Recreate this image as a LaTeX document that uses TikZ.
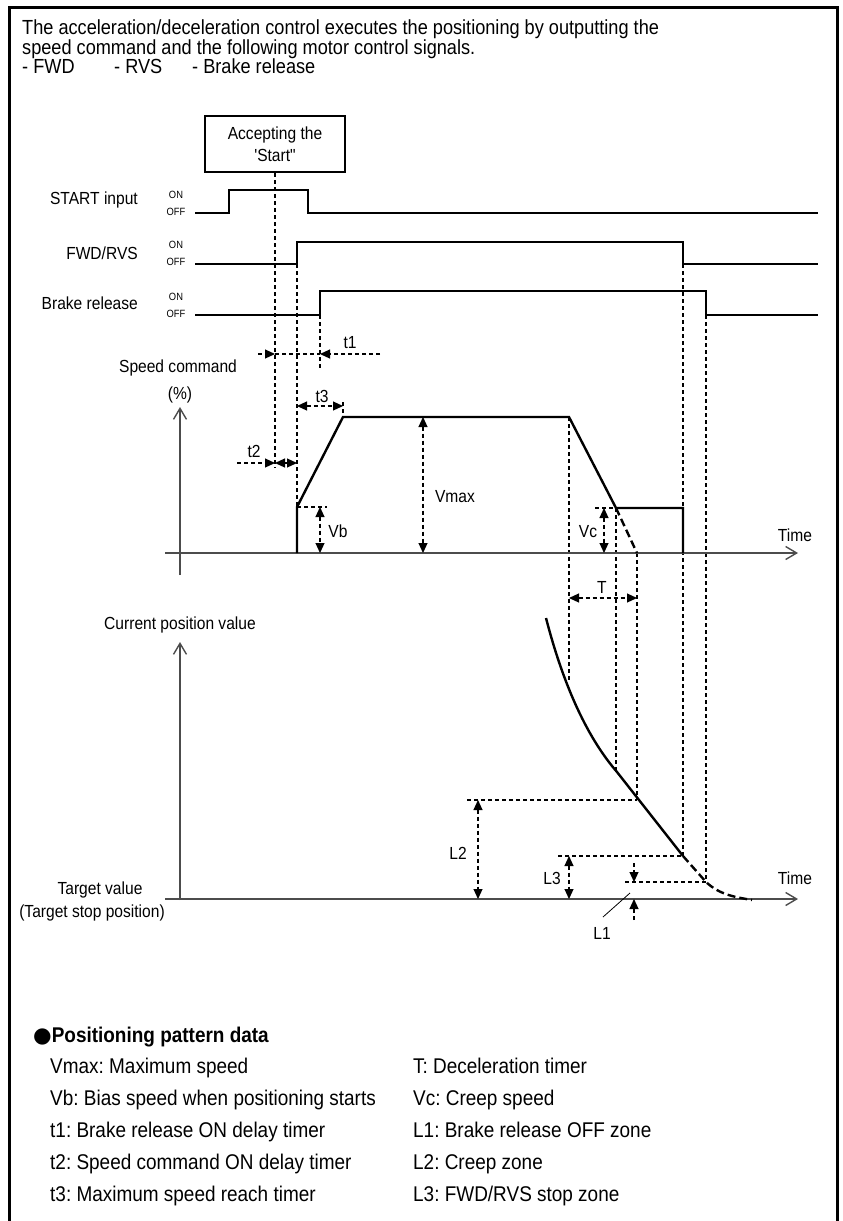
\documentclass[tikz,border=0pt]{standalone}
\usepackage{fontspec}
\setmainfont{Liberation Sans}[FakeStretch=0.89, Ligatures=TeXOff]
\newfontfamily\dotfont{DejaVu Sans}
\usetikzlibrary{arrows.meta}
\frenchspacing

\begin{document}
\begin{tikzpicture}[x=1pt, y=-1pt, every node/.style={font=\fontsize{17.5}{22}\selectfont, inner sep=0pt},
  big/.style={anchor=base west, font=\fontsize{20.4}{22}\selectfont},
  key/.style={anchor=base west, font=\fontsize{21.3}{22}\selectfont},
  sig/.style={line width=2.4pt, line join=miter},
  sigdash/.style={line width=2.4pt, dash pattern=on 8pt off 4pt},
  ax/.style={line width=1.4pt, black!70, -{Straight Barb[length=11pt,width=13pt]}},
  guide/.style={line width=1.1pt, dash pattern=on 4pt off 3pt},
  dim/.style={guide, {Triangle[length=10pt,width=9pt]}-{Triangle[length=10pt,width=9pt]}},
  tip/.style={guide, -{Triangle[length=10pt,width=9pt]}},
  onoff/.style={font=\fontsize{10.5}{11}\selectfont}]
\useasboundingbox (0,0) rectangle (843,1221);
\draw[line width=3pt] (9,1221) |- (837,7) -- (837,1221);
% intro text
\node[big] (intro1) at (22,34) {The acceleration/deceleration control executes the positioning by outputting the};
\node[big] (intro2) at (22,54) {speed command and the following motor control signals.};
\node[big] (fwd) at (22,73) {- FWD};
\node[big] (rvs) at (114,73) {- RVS};
\node[big] (brk) at (192,73) {- Brake release};
\node[draw, line width=2pt, minimum width=140pt, minimum height=56pt, align=center] (accept) at (275,144) {Accepting the\\'Start"};
% signals
\node[anchor=east] (lstart) at (138,200) {START input};
\node[anchor=east] (lfwd) at (138,253) {FWD/RVS};
\node[anchor=east] (lbrake) at (138,303) {Brake release};
\foreach \y/\n in {195/a,245/b,297/c} {
  \node[onoff] (on\n) at (176,\y) {ON};
  \node[onoff] (off\n) at (176,\y+17) {OFF};
}
\draw[sig] (195,213) -- (229,213) -- (229,190) -- (308,190) -- (308,213) -- (818,213);
\draw[sig] (195,264) -- (297,264) -- (297,242) -- (683,242) -- (683,264) -- (818,264);
\draw[sig] (195,315) -- (320,315) -- (320,291) -- (706,291) -- (706,315) -- (818,315);
% guides
\draw[guide] (accept.south) -- (275,468);
\draw[guide] (297,264) -- (297,507);
\draw[guide] (320,315) -- (320,368);
\draw[guide] (343,402) -- (343,417);
\draw[guide] (569,417) -- (569,680);
\draw[guide] (616,508) -- (616,772);
\draw[guide] (637,553) -- (637,800);
\draw[guide] (683,264) -- (683,856);
\draw[guide] (706,315) -- (706,882);
% speed command
\draw[ax] (180,575) -- (180,407);
\draw[ax] (165,553) -- (798,553);
\node (scmd) at (178,368) {Speed command};
\node (pct) at (180,395) {(\%)};
\node (time1) at (795,535) {Time};
\draw[sig] (297,553) -- (297,507) -- (343,417) -- (569,417) -- (616,508) -- (683,508) -- (683,553);
\draw[sigdash] (616,508) -- (637,553);
\draw[tip] (258,354) -- (275,354);
\draw[guide] (275,354) -- (320,354);
\draw[tip] (380,354) -- (320,354);
\node (t1) at (350,343) {t1};
\draw[tip] (237,463) -- (275,463);
\draw[dim] (275,463) -- (297,463);
\node (t2) at (254,451) {t2};
\draw[dim] (297,406) -- (343,406);
\node (t3) at (322,396) {t3};
\draw[guide] (297,507) -- (327,507);
\draw[dim] (320,507) -- (320,553);
\node (vb) at (338,531) {Vb};
\draw[dim] (423,417) -- (423,553);
\node (vmax) at (455,497) {Vmax};
\draw[guide] (595,508) -- (616,508);
\draw[dim] (604,508) -- (604,553);
\node (vc) at (588,532) {Vc};
\draw[dim] (569,598) -- (637,598);
\node (tt) at (602,587) {T};
% current position
\draw[ax] (180,900) -- (180,642);
\draw[ax] (165,899) -- (798,899);
\node (cpos) at (180,625) {Current position value};
\node (tval) at (100,890) {Target value};
\node (tstop) at (92,913) {(Target stop position)};
\node (time2) at (795,878) {Time};
\draw[sig] (546,618) .. controls (562,680) and (585,735) .. (617,772) -- (683,856);
\draw[sigdash] (683,856) -- (706,882) .. controls (720,895) and (735,897) .. (752,900);
\draw[guide] (467,800) -- (637,800);
\draw[dim] (478,800) -- (478,899);
\node (l2) at (458,853) {L2};
\draw[guide] (558,856) -- (683,856);
\draw[dim] (569,856) -- (569,899);
\node (l3) at (552,878) {L3};
\draw[guide] (625,882) -- (706,882);
\draw[tip] (634,863) -- (634,882);
\draw[tip] (634,920) -- (634,899);
\draw[line width=0.8pt] (630,893) -- (603,917);
\node (l1) at (602,933) {L1};
% pattern data
\node[key, font=\fontsize{21.3}{22}\selectfont\bfseries] (legend) at (33,1042) {{\dotfont ●}Positioning pattern data};
\node[key] (k1) at (50,1073) {Vmax: Maximum speed};
\node[key] (k2) at (50,1105) {Vb: Bias speed when positioning starts};
\node[key] (k3) at (50,1137) {t1: Brake release ON delay timer};
\node[key] (k4) at (50,1169) {t2: Speed command ON delay timer};
\node[key] (k5) at (50,1201) {t3: Maximum speed reach timer};
\node[key] (k6) at (413,1073) {T: Deceleration timer};
\node[key] (k7) at (413,1105) {Vc: Creep speed};
\node[key] (k8) at (413,1137) {L1: Brake release OFF zone};
\node[key] (k9) at (413,1169) {L2: Creep zone};
\node[key] (k10) at (413,1201) {L3: FWD/RVS stop zone};
\end{tikzpicture}
\end{document}
